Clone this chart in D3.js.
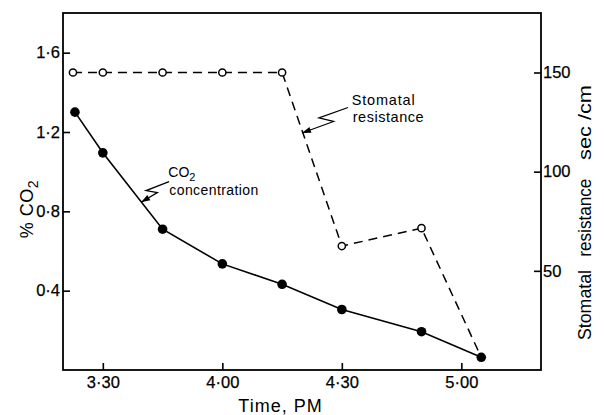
<!DOCTYPE html>
<html>
<head>
<meta charset="utf-8">
<script src="https://cdn.jsdelivr.net/npm/d3@7"></script>
<style>
  html, body { margin: 0; padding: 0; background: #fff; }
  svg { display: block; }
  text { font-family: "Liberation Sans", Arial, sans-serif; fill: #000; }
</style>
</head>
<body>
<svg id="chart" width="604" height="415"></svg>
<script>
// ---- data ----
const co2Times = ["3:23", "3:30", "3:45", "4:00", "4:15", "4:30", "4:50", "5:05"];
const co2Values = [1.30, 1.095, 0.71, 0.535, 0.432, 0.305, 0.193, 0.064];
const resTimes = ["3:22.5", "3:30", "3:45", "4:00", "4:15", "4:30", "4:50", "5:05"];
const resValues = [150, 150, 150, 150, 150, 62.5, 71.5, 6.4];
const xTickValues = ["3:30", "4:00", "4:30", "5:00"];
const leftTickValues = [0.4, 0.8, 1.2, 1.6];
const rightTickValues = [50, 100, 150];

const parseT = s => { const [h, m] = s.split(":"); return +h + (+m) / 60; };

const svg = d3.select("#chart");
const L = 63, R = 541, T = 13, B = 370;

const x = d3.scaleLinear().domain([parseT("3:20"), parseT("5:20")]).range([L, R]);
const yL = d3.scaleLinear().domain([0, 1.8]).range([B, T]);
const yR = d3.scaleLinear().domain([0, 180]).range([B, T]);

// frame
svg.append("rect").attr("x", L).attr("y", T).attr("width", R - L).attr("height", B - T)
  .attr("fill", "none").attr("stroke", "#000").attr("stroke-width", 1.8);

// axes
const fmtT = v => { const h = Math.floor(v + 1e-9); const m = Math.round((v - h) * 60); return h + "·" + String(m).padStart(2, "0"); };
const xAxis = d3.axisBottom(x).tickValues(xTickValues.map(parseT)).tickFormat(fmtT)
  .tickSizeInner(-7).tickSizeOuter(0).tickPadding(6);
const gx = svg.append("g").attr("transform", `translate(0,${B})`).call(xAxis);

const lAxis = d3.axisLeft(yL).tickValues(leftTickValues).tickFormat(d => d.toFixed(1).replace(".", "·"))
  .tickSizeInner(-7).tickSizeOuter(0).tickPadding(3);
const gl = svg.append("g").attr("transform", `translate(${L},0)`).call(lAxis);

const rAxis = d3.axisRight(yR).tickValues(rightTickValues).tickFormat(d3.format("d"))
  .tickSizeInner(-7).tickSizeOuter(0).tickPadding(2);
const gr = svg.append("g").attr("transform", `translate(${R},0)`).call(rAxis);

[gx, gl, gr].forEach(g => {
  g.select(".domain").remove();
  g.selectAll(".tick line").attr("stroke", "#000").attr("stroke-width", 1.6);
  g.selectAll(".tick text").attr("font-size", 16.5).attr("fill", "#000")
    .attr("stroke", "#000").attr("stroke-width", 0.25)
    .style("font-family", "'Liberation Sans', Arial, sans-serif");
});

// series
const resData = resTimes.map((t, i) => ({ t: parseT(t), v: resValues[i] }));
const co2Data = co2Times.map((t, i) => ({ t: parseT(t), v: co2Values[i] }));

svg.append("path").datum(resData)
  .attr("d", d3.line().x(d => x(d.t)).y(d => yR(d.v)))
  .attr("fill", "none").attr("stroke", "#000").attr("stroke-width", 1.5)
  .attr("stroke-dasharray", "9,6");
svg.selectAll(".res").data(resData.slice(0, -1)).enter().append("circle")
  .attr("cx", d => x(d.t)).attr("cy", d => yR(d.v)).attr("r", 3.6)
  .attr("fill", "#fff").attr("stroke", "#000").attr("stroke-width", 1.5);

svg.append("path").datum(co2Data)
  .attr("d", d3.line().x(d => x(d.t)).y(d => yL(d.v)))
  .attr("fill", "none").attr("stroke", "#000").attr("stroke-width", 1.6);
svg.selectAll(".co2").data(co2Data).enter().append("circle")
  .attr("cx", d => x(d.t)).attr("cy", d => yL(d.v)).attr("r", 4.8).attr("fill", "#000");

// annotation arrows (zig-zag leaders)
function leader(tip, offs) {
  const pts = offs.map(o => [tip[0] + o[0], tip[1] + o[1]]);
  pts.push(tip);
  svg.append("path").attr("d", d3.line()(pts)).attr("fill", "none")
    .attr("stroke", "#000").attr("stroke-width", 1.3);
  const p = pts[pts.length - 2];
  const dx = tip[0] - p[0], dy = tip[1] - p[1], len = Math.hypot(dx, dy);
  const ux = dx / len, uy = dy / len, hl = 9, hw = 3;
  const bx = tip[0] - ux * hl, by = tip[1] - uy * hl;
  svg.append("path").attr("d", d3.line()([
    tip, [bx - uy * hw, by + ux * hw], [bx + uy * hw, by - ux * hw]
  ]) + "Z").attr("fill", "#000");
}
leader([x(parseT("4:20")), yR(119.5)], [[46, -25.5], [17, -15], [31.5, -11.5]]);
leader([x(parseT("3:39.6")), yL(0.846)], [[28, -20.6], [5, -11.6], [16.3, -9.6]]);

// annotation texts
svg.append("text").attr("x", 351.7).attr("y", 105).attr("font-size", 14.5)
  .attr("textLength", 63).attr("lengthAdjust", "spacing").text("Stomatal");
svg.append("text").attr("x", 352.7).attr("y", 121.5).attr("font-size", 14.5)
  .attr("textLength", 71).attr("lengthAdjust", "spacing").text("resistance");
const co2t = svg.append("text").attr("x", 168.3).attr("y", 177).attr("font-size", 14);
co2t.append("tspan").text("CO");
co2t.append("tspan").attr("font-size", 11).attr("dy", 4).text("2");
svg.append("text").attr("x", 169.3).attr("y", 195).attr("font-size", 14)
  .attr("textLength", 89).attr("lengthAdjust", "spacing").text("concentration");

// axis titles
svg.append("text").attr("x", 280.5).attr("y", 412).attr("text-anchor", "middle")
  .attr("font-size", 18).attr("letter-spacing", 1).text("Time, PM");

const gLeft = svg.append("g").attr("transform", "translate(33,0) rotate(-90)");
const lt = gLeft.append("text").attr("x", -238.3).attr("y", 0).attr("font-size", 18)
  .attr("letter-spacing", 0.5);
lt.append("tspan").text("% CO");
lt.append("tspan").attr("font-size", 14).attr("dy", 5).text("2");

const gRight = svg.append("g").attr("transform", "translate(591,0) rotate(-90)");
[["Stomatal", -340, 70], ["resistance", -256.7, 78], ["sec /cm", -160, 75]].forEach(([w, u, len]) => {
  gRight.append("text").attr("x", u).attr("y", 0).attr("font-size", 18)
    .attr("textLength", len).attr("lengthAdjust", "spacingAndGlyphs").text(w);
});
</script>
</body>
</html>
